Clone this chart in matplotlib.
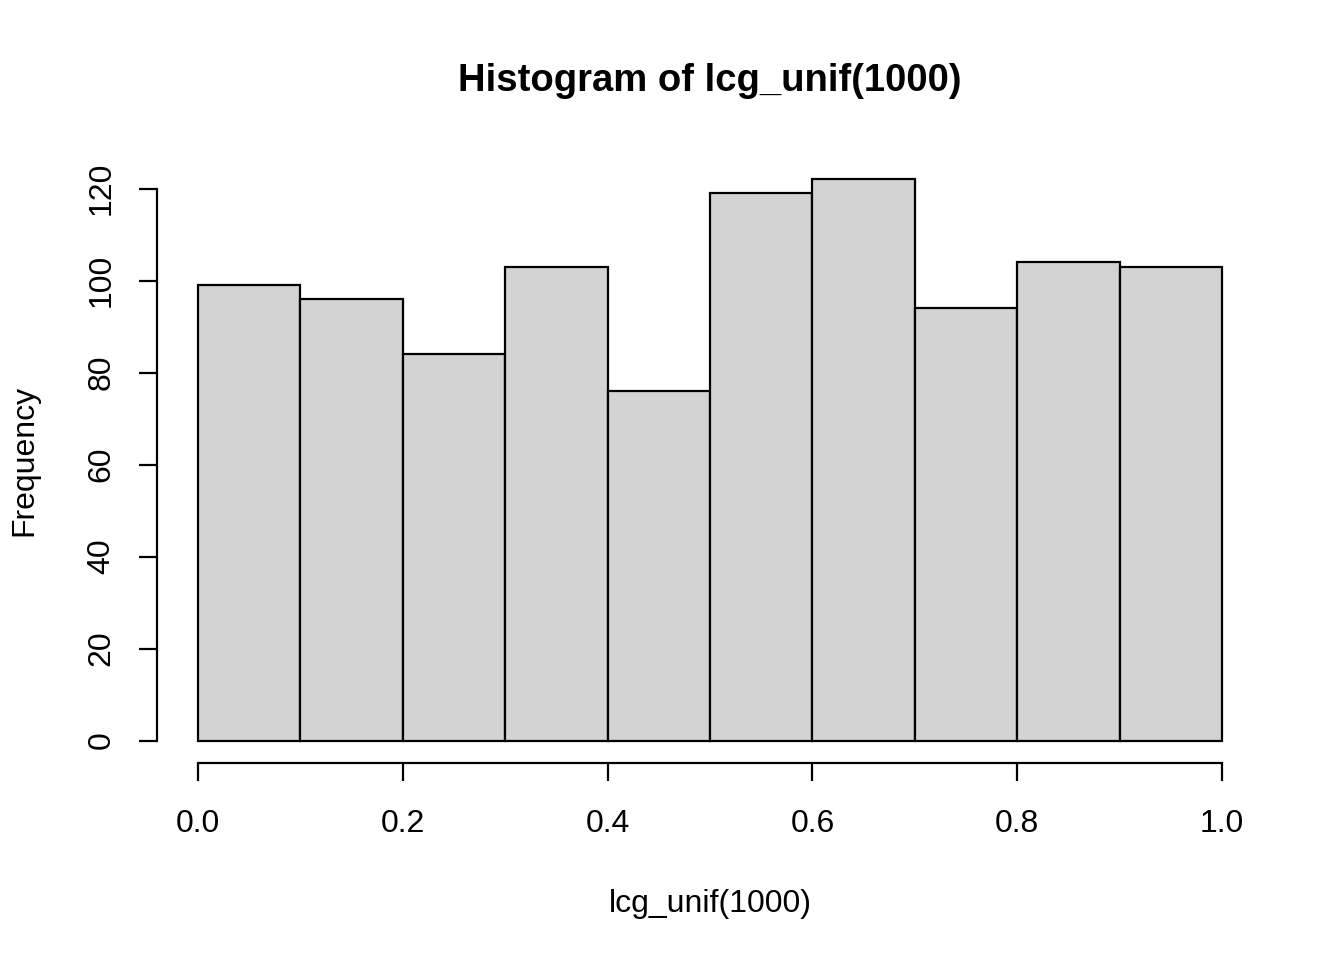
import matplotlib
matplotlib.use("Agg")
import matplotlib.pyplot as plt
import numpy as np

plt.rcParams['font.family'] = ['Liberation Sans', 'DejaVu Sans']

bin_edges = [0.0, 0.1, 0.2, 0.3, 0.4, 0.5, 0.6, 0.7, 0.8, 0.9, 1.0]
counts = [99, 96, 84, 103, 76, 119, 122, 94, 104, 103]
x_ticks = [0.0, 0.2, 0.4, 0.6, 0.8, 1.0]
x_tick_labels = ["0.0", "0.2", "0.4", "0.6", "0.8", "1.0"]
y_ticks = [0, 20, 40, 60, 80, 100, 120]

fig = plt.figure(figsize=(13.44, 9.6), dpi=100)
ax = fig.add_axes([157/1344, 1-763/960, (1263-157)/1344, (763-157)/960])

lefts = np.array(bin_edges[:-1])
widths = np.diff(bin_edges)
ax.bar(lefts, counts, width=widths, align='edge', color='#d3d3d3',
       edgecolor='black', linewidth=1.6)

ax.set_xlim(-0.04, 1.04)
ax.set_ylim(-0.04*122, 122*1.04)

for s in ['top', 'right']:
    ax.spines[s].set_visible(False)
ax.spines['left'].set_bounds(0, 120)
ax.spines['bottom'].set_bounds(0, 1)
ax.spines['left'].set_linewidth(1.6)
ax.spines['bottom'].set_linewidth(1.6)

ax.set_xticks(x_ticks)
ax.set_xticklabels(x_tick_labels)
ax.set_yticks(y_ticks)
ax.set_yticklabels([str(v) for v in y_ticks], rotation=90, va='center')
ax.tick_params(axis='both', direction='out', length=13, width=1.6,
               labelsize=23)
ax.tick_params(axis='x', pad=20)
ax.tick_params(axis='y', pad=16)

ax.set_xlabel("lcg_unif(1000)", fontsize=23, labelpad=36)
ax.set_ylabel("Frequency", fontsize=23, labelpad=34)
fig.text((157+1263)/2/1344, 1-81/960, "Histogram of lcg_unif(1000)",
         ha='center', va='center', fontsize=27.5, fontweight='bold')

fig.savefig("out.png", dpi=100)
